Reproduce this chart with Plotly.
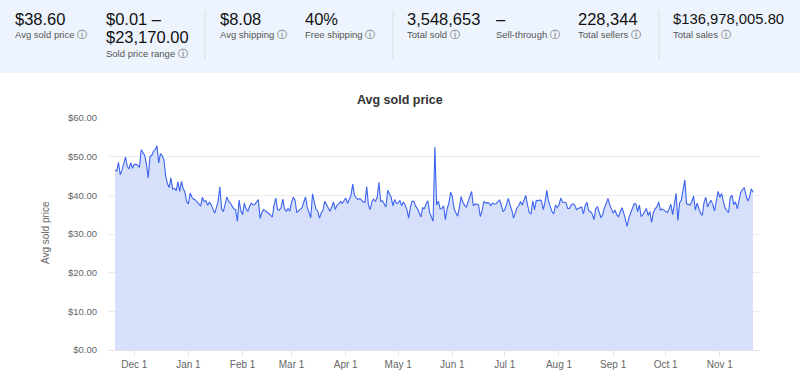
import pandas as pd
import plotly.graph_objects as go

# ---------------- data ----------------
start_date = "2022-11-20"

prices_nov_jan = [
    46.5, 46.3, 48.5, 45.3, 46.5, 48.5, 49.9, 47.5, 46.8, 48.4,
    47.0, 48.0, 48.0, 47.8, 47.2, 51.8, 51.0, 50.3, 48.0, 44.5,
    50.0, 50.3, 51.4, 51.8, 52.8, 48.4, 50.8, 50.2, 49.2, 45.0,
    43.0, 42.0, 44.5, 41.6, 41.8, 41.2, 43.5, 41.0, 43.6, 41.8,
    40.8, 38.4, 37.8, 40.6, 39.5, 39.0, 38.8, 38.2, 37.8, 37.2,
    39.5, 38.4, 38.6, 37.4, 38.2, 37.6, 36.5, 35.4, 36.8, 38.5,
    42.2, 36.5, 35.8, 37.5, 39.6, 38.5, 38.0, 37.2, 36.5, 36.3,
    33.3, 38.8, 36.0,
]
prices_feb_apr = [
    35.0, 38.0, 36.5, 35.8, 37.2, 38.0, 37.5,
    37.6, 38.3, 38.9, 34.0, 35.5, 36.3, 36.0, 35.6, 35.3, 34.8,
    34.4, 37.5, 39.3, 36.3, 36.2, 36.8, 39.0, 36.5, 35.9, 36.6,
    35.9, 38.2, 39.5, 38.8, 35.5, 36.0, 36.4, 36.8, 38.2, 39.6,
    36.9, 35.8, 34.2, 40.4, 38.0, 36.4, 35.9, 34.1, 35.5, 36.2,
    38.5, 37.6, 36.5, 35.9, 37.0, 38.3, 36.3, 37.5, 37.8, 38.4,
    37.9, 38.8, 39.3, 37.9, 39.0, 40.0, 42.9, 40.0, 39.4, 38.9,
    39.2, 38.7, 38.3, 38.2, 42.3, 37.5, 36.3, 38.4, 39.0, 38.4,
]
prices_may_jul = [
    39.5, 43.4, 38.4, 38.6, 37.8, 37.0, 41.3, 40.5, 39.5, 37.3,
    38.9, 37.9, 38.0, 38.7, 37.3, 38.3, 37.5, 36.3, 34.1, 37.0,
    38.5, 38.4, 37.2, 36.6, 35.5, 34.4, 36.8, 36.6, 37.8, 38.6,
    35.6, 34.5, 33.3, 52.5, 37.5, 38.5, 36.5, 36.6, 37.3, 33.7,
    36.5, 38.0, 40.8, 39.7, 36.5, 35.5, 34.6, 36.8, 39.7, 38.2,
    37.4, 37.0, 38.4, 40.0, 41.0, 37.3, 37.8, 37.7, 37.5, 34.5,
    36.0, 38.4, 38.0, 38.1, 38.0, 37.3, 38.0, 37.7, 37.8, 38.3,
    38.8, 37.5, 35.8, 36.3, 37.5, 39.2, 37.5, 36.2, 34.1, 35.8,
    36.8, 37.3, 38.4, 37.5, 38.7, 40.0, 37.5, 35.5, 35.2, 38.6,
]
prices_aug_nov = [
    36.3, 38.7, 38.6, 38.8, 38.5, 36.3, 38.2, 41.3, 38.5, 36.8,
    35.8, 35.2, 37.5, 36.8, 37.5, 39.3, 38.2, 38.2, 38.1, 36.6,
    36.6, 37.5, 37.8, 37.5, 36.3, 36.6, 36.8, 37.0, 35.2, 37.3,
    38.2, 36.0, 35.8, 35.2, 33.7, 36.5, 37.1, 35.8, 34.2, 35.0,
    36.8, 37.8, 39.2, 37.6, 36.2, 35.4, 36.2, 35.0, 34.5, 35.8,
    36.8, 35.5, 33.5, 32.0, 34.2, 35.5, 36.4, 37.8, 37.8, 35.8,
    37.5, 34.5, 35.0, 36.0, 36.6, 34.8, 35.8, 33.0, 35.5, 36.5,
    37.0, 38.3, 36.2, 36.5, 36.2, 35.8, 35.5, 36.5, 37.7, 35.0,
    38.0, 40.5, 33.5, 38.0, 38.8, 41.5, 44.0, 37.8, 37.6, 37.5,
    38.4, 39.8, 36.2, 38.0, 36.6, 35.4, 34.8, 38.2, 39.5, 37.0,
    38.0, 38.7, 37.6, 36.0, 38.5, 41.0, 39.5, 40.5, 38.5, 36.8,
    36.0, 35.5, 39.5, 40.0, 37.6, 38.3, 36.5, 38.5, 40.8, 41.5,
    42.0, 40.0, 38.5, 39.5, 41.7, 40.8,
]
prices = prices_nov_jan + prices_feb_apr + prices_may_jul + prices_aug_nov
dates = pd.date_range(start_date, periods=len(prices), freq="D")

stat_values = ["$38.60", "$0.01 –", "$8.08", "40%", "3,548,653", "–", "228,344", "$136,978,005.80"]
stat_labels = ["Avg sold price", "Sold price range", "Avg shipping", "Free shipping",
               "Total sold", "Sell-through", "Total sellers", "Total sales"]
range_second_line = "$23,170.00"

# ---------------- layout geometry (pixels) ----------------
W, H = 800, 381
L, R, T, B = 108, 40, 118, 31
PW, PH = W - L - R, H - T - B


def px(x):
    return (x - L) / PW


def py(y):
    return (H - B - y) / PH


fig = go.Figure()
fig.add_trace(go.Scatter(
    x=dates, y=prices, mode="lines",
    line=dict(color="#3d64f0", width=1.1),
    fill="tozeroy", fillcolor="#d6e0fa",
    hoverinfo="skip", showlegend=False,
))

shapes = [
    dict(type="rect", xref="paper", yref="paper", x0=px(0), x1=px(800), y0=py(0), y1=py(73),
         fillcolor="#eef4fd", line=dict(width=0), layer="below"),
]
for xd in [205, 393, 659]:
    shapes.append(dict(type="line", xref="paper", yref="paper", x0=px(xd), x1=px(xd),
                       y0=py(10), y1=py(60), line=dict(color="#d8dde6", width=1)))

val_x = [13, 104, 218, 303, 405, 494, 576, 671]
val_sizes = [16.5, 16.5, 16.5, 16.5, 16.5, 16.5, 16.5, 14.8]
annotations = []
FAM = "Liberation Sans, Arial, sans-serif"
LAB_FONT = dict(family=FAM, size=9.5, color="#555555")
for i, (v, lab) in enumerate(zip(stat_values, stat_labels)):
    annotations.append(dict(text=v, x=px(val_x[i]), y=py(19), xref="paper", yref="paper",
                            xanchor="left", yanchor="middle", showarrow=False,
                            font=dict(family=FAM, size=val_sizes[i], color="#111111")))
    ly = 54 if i == 1 else 35
    annotations.append(dict(text=lab + " ⓘ", x=px(val_x[i]), y=py(ly), xref="paper", yref="paper",
                            xanchor="left", yanchor="middle", showarrow=False, font=LAB_FONT))
annotations.append(dict(text=range_second_line, x=px(val_x[1]), y=py(37), xref="paper", yref="paper",
                        xanchor="left", yanchor="middle", showarrow=False,
                        font=dict(family=FAM, size=16.5, color="#111111")))
annotations.append(dict(text="<b>Avg sold price</b>", x=px(400), y=py(100), xref="paper", yref="paper",
                        xanchor="center", yanchor="middle", showarrow=False,
                        font=dict(family=FAM, size=12.5, color="#333333")))
annotations.append(dict(text="Avg sold price", x=px(45), y=py(233), xref="paper", yref="paper",
                        xanchor="center", yanchor="middle", showarrow=False, textangle=-90,
                        font=dict(family=FAM, size=10, color="#666666")))

fig.update_layout(
    width=W, height=H,
    margin=dict(l=L, r=R, t=T, b=B),
    paper_bgcolor="white", plot_bgcolor="white",
    shapes=shapes, annotations=annotations,
    font=dict(family=FAM, size=9.5, color="#666666"),
    xaxis=dict(
        range=["2022-11-16", "2023-11-24"],
        tick0="2022-12-01", dtick="M1", tickformat="%b %-d",
        showgrid=False, showline=True, linecolor="#e3e3e3", linewidth=1,
        ticks="outside", ticklen=5, tickcolor="#e3e3e3",
        tickfont=dict(size=10, color="#666666"), zeroline=False,
    ),
    yaxis=dict(
        range=[0, 60], dtick=10, tickprefix="$", tickformat=".2f",
        showgrid=True, gridcolor="#ececec", gridwidth=1, zeroline=False,
        ticks="", ticklabelstandoff=10,
        tickfont=dict(size=9.5, color="#666666"),
    ),
)

fig.write_html(
    "out.html",
    config={"displayModeBar": False, "staticPlot": True},
    post_script="document.body.style.margin='0';document.body.style.padding='0';",
)
